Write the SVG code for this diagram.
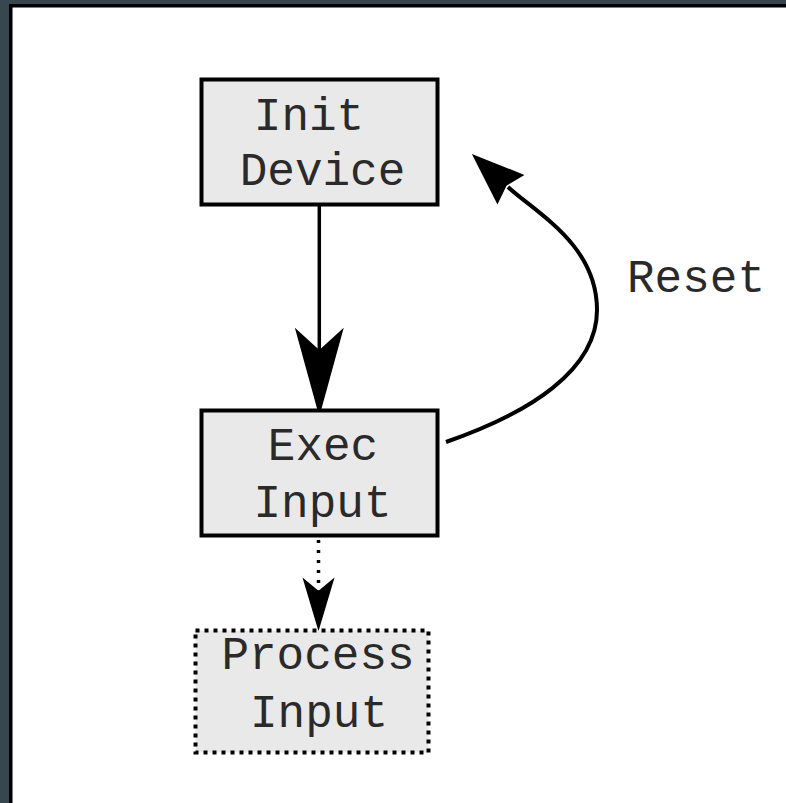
<svg xmlns="http://www.w3.org/2000/svg" width="786" height="803" viewBox="0 0 786 803">
  <style>
    .box { fill: #e9e9e9; stroke: #000; stroke-width: 4; }
    .dotbox { fill: #e9e9e9; stroke: #000; stroke-width: 4; stroke-dasharray: 4 5; }
    .lbl { font-family: "Liberation Mono", "Courier New", monospace; font-size: 46px; fill: #2a2a2a; text-anchor: middle; }
    .edge { fill: none; stroke: #000; stroke-width: 3.5; }
    .curve { stroke-width: 4; }
    .dotted { stroke-dasharray: 3 7; }
  </style>
  <defs>
    <marker id="headBig" markerUnits="userSpaceOnUse" orient="auto" refX="0" refY="0" markerWidth="100" markerHeight="60" viewBox="-25 -25 90 50" overflow="visible">
      <path d="M60,0 L-20,-22 L0,0 L-20,22 Z" fill="#000"/>
    </marker>
    <marker id="headSmall" markerUnits="userSpaceOnUse" orient="auto" refX="0" refY="0" markerWidth="60" markerHeight="40" viewBox="-15 -18 58 36" overflow="visible">
      <path d="M39.3,0 L-12.7,-15.5 L0,0 L-12.7,15.5 Z" fill="#000"/>
    </marker>
    <marker id="headWide" markerUnits="userSpaceOnUse" orient="auto" refX="0" refY="0" markerWidth="60" markerHeight="50" viewBox="-6 -22 60 44" overflow="visible">
      <path d="M49,0 L-4,-20 L2,0 L-4,20 Z" fill="#000"/>
    </marker>
  </defs>

  <!-- frame -->
  <rect x="0" y="0" width="786" height="803" fill="#36474f"/>
  <rect x="9" y="4" width="777" height="799" fill="#000"/>
  <rect x="12.5" y="7.5" width="773.5" height="795.5" fill="#fff"/>

  <g id="connectors">
    <path class="edge" d="M319.3,206 L319.3,350" marker-end="url(#headBig)"/>
    <path class="edge dotted" d="M318.5,540 L318.5,590.7" marker-end="url(#headSmall)"/>
    <path class="edge curve" d="M446,442 C530,413 597,370 597,310 C597,245 536.8,213.4 508,187" marker-end="url(#headWide)"/>
    <text class="lbl" x="696" y="292">Reset</text>
  </g>

  <g id="init-device">
    <rect class="box" x="201.5" y="79.5" width="236" height="125"/>
    <text class="lbl" x="309" y="129.5">Init</text>
    <text class="lbl" x="322.5" y="185">Device</text>
  </g>

  <g id="exec-input">
    <rect class="box" x="201.5" y="410.5" width="236" height="125"/>
    <text class="lbl" x="323" y="460">Exec</text>
    <text class="lbl" x="322.5" y="517">Input</text>
  </g>

  <g id="process-input">
    <rect class="dotbox" x="195.5" y="630.5" width="233" height="122"/>
    <text class="lbl" x="318" y="668.5">Process</text>
    <text class="lbl" x="319" y="727">Input</text>
  </g>
</svg>
